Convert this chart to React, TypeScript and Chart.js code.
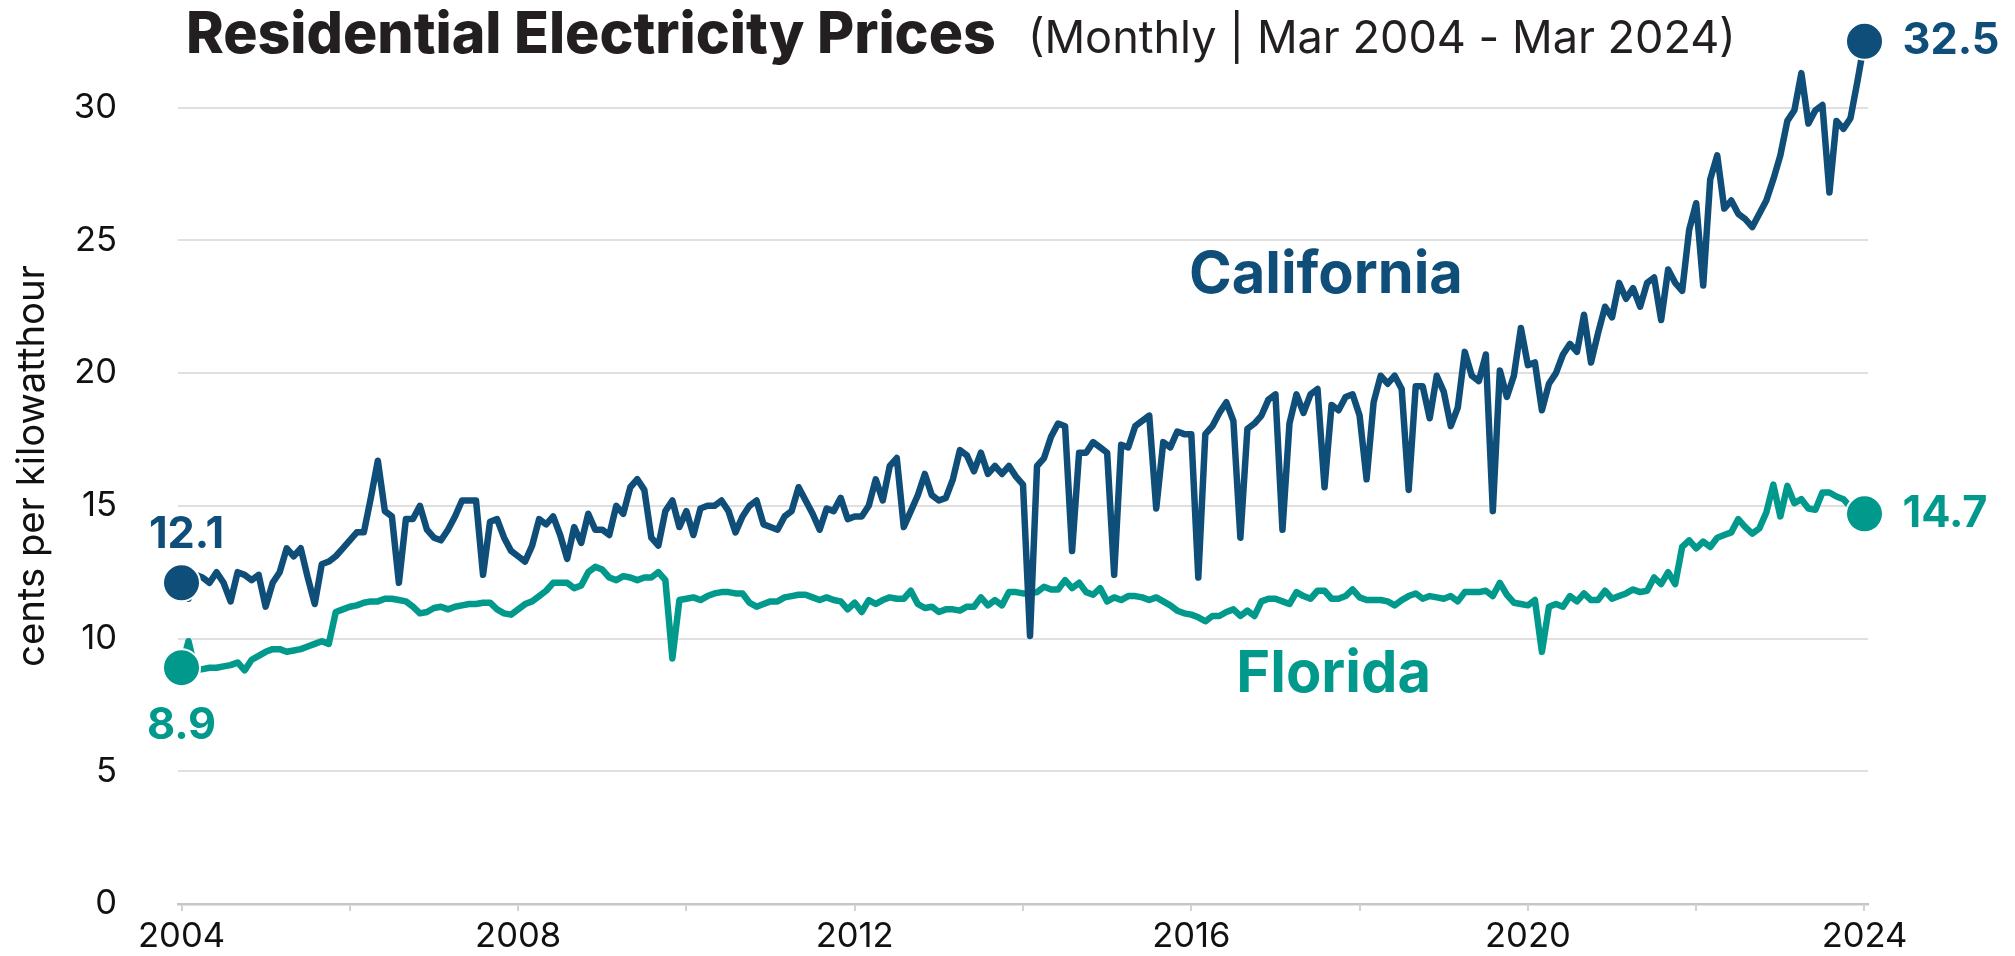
import React, { useEffect, useRef } from 'react';
import { Chart, registerables } from 'chart.js';

Chart.register(...registerables);

const FONT = 'Inter, "Liberation Sans", Arial, sans-serif';

// ---- categories (monthly, Mar 2004 .. Mar 2024) ----
const MONTH_NAMES = ['Jan', 'Feb', 'Mar', 'Apr', 'May', 'Jun', 'Jul', 'Aug', 'Sep', 'Oct', 'Nov', 'Dec'];
const START_MONTH = 2;
const START_YEAR = 2004;
const monthLabels: string[] = Array.from({ length: 241 }, (_, i) =>
  `${MONTH_NAMES[(START_MONTH + i) % 12]} ${START_YEAR + Math.floor((START_MONTH + i) / 12)}`
);

// ---- axis ticks ----
const xTickIndices = [0, 24, 48, 72, 96, 120, 144, 168, 192, 216, 240];
const xTickLabels = ['2004', '', '2008', '', '2012', '', '2016', '', '2020', '', '2024'];
const yTickValues = [0, 5, 10, 15, 20, 25, 30];

// ---- texts ----
const titleText = 'Residential Electricity Prices';
const subtitleText = '(Monthly | Mar 2004 - Mar 2024)';
const yAxisTitle = 'cents per kilowatthour';
const seriesNames = ['California', 'Florida'];

// ---- series values (cents per kWh) ----
const californiaPrices = [
  12.1, 11.5, 12.4, 12.3, 12.1, 12.5, 12.1, 11.4, 12.5, 12.4,
  12.2, 12.4, 11.2, 12.1, 12.5, 13.4, 13.1, 13.4, 12.3, 11.3,
  12.8, 12.9, 13.1, 13.4, 13.7, 14.0, 14.0, 15.3, 16.7, 14.8,
  14.6, 12.1, 14.5, 14.5, 15.0, 14.1, 13.8, 13.7, 14.1, 14.6,
  15.2, 15.2, 15.2, 12.4, 14.4, 14.5, 13.8, 13.3, 13.1, 12.9,
  13.5, 14.5, 14.3, 14.6, 13.9, 13.0, 14.2, 13.6, 14.7, 14.1,
  14.1, 13.9, 15.0, 14.7, 15.7, 16.0, 15.6, 13.8, 13.5, 14.8,
  15.2, 14.2, 14.8, 13.9, 14.9, 15.0, 15.0, 15.2, 14.8, 14.0,
  14.6, 15.0, 15.2, 14.3, 14.2, 14.1, 14.6, 14.8, 15.7, 15.2,
  14.7, 14.1, 14.9, 14.8, 15.3, 14.5, 14.6, 14.6, 15.0, 16.0,
  15.2, 16.5, 16.8, 14.2, 14.8, 15.4, 16.2, 15.4, 15.2, 15.3,
  16.0, 17.1, 16.9, 16.3, 17.0, 16.2, 16.5, 16.2, 16.5, 16.1,
  15.8, 10.1, 16.5, 16.8, 17.6, 18.1, 18.0, 13.3, 17.0, 17.0,
  17.4, 17.2, 17.0, 12.4, 17.3, 17.2, 18.0, 18.2, 18.4, 14.9,
  17.4, 17.2, 17.8, 17.7, 17.7, 12.3, 17.7, 18.0, 18.5, 18.9,
  18.2, 13.8, 17.9, 18.1, 18.4, 19.0, 19.2, 14.1, 18.1, 19.2,
  18.5, 19.2, 19.4, 15.7, 18.8, 18.6, 19.1, 19.2, 18.4, 16.0,
  18.9, 19.9, 19.6, 19.9, 19.4, 15.6, 19.5, 19.5, 18.3, 19.9,
  19.3, 18.0, 18.7, 20.8, 19.9, 19.7, 20.7, 14.8, 20.1, 19.1,
  19.9, 21.7, 20.3, 20.4, 18.6, 19.6, 20.0, 20.7, 21.1, 20.8,
  22.2, 20.4, 21.5, 22.5, 22.1, 23.4, 22.8, 23.2, 22.5, 23.4,
  23.6, 22.0, 23.9, 23.4, 23.1, 25.4, 26.4, 23.3, 27.3, 28.2,
  26.2, 26.5, 26.0, 25.8, 25.5, 26.0, 26.5, 27.3, 28.2, 29.5,
  29.9, 31.3, 29.4, 29.9, 30.1, 26.8, 29.5, 29.2, 29.6, 31.0,
  32.5,
];

const floridaPrices = [
  8.9, 9.9, 8.8, 8.85, 8.9, 8.9, 8.95, 9.0, 9.1, 8.8,
  9.2, 9.35, 9.5, 9.6, 9.6, 9.5, 9.55, 9.6, 9.7, 9.8,
  9.9, 9.8, 11.0, 11.1, 11.2, 11.25, 11.35, 11.4, 11.4, 11.5,
  11.5, 11.45, 11.4, 11.2, 10.95, 11.0, 11.15, 11.2, 11.1, 11.2,
  11.25, 11.3, 11.3, 11.35, 11.35, 11.1, 10.95, 10.9, 11.1, 11.3,
  11.4, 11.6, 11.8, 12.1, 12.1, 12.1, 11.9, 12.0, 12.5, 12.7,
  12.6, 12.3, 12.2, 12.35, 12.3, 12.2, 12.3, 12.3, 12.5, 12.2,
  9.25, 11.45, 11.5, 11.55, 11.45, 11.6, 11.7, 11.75, 11.75, 11.7,
  11.7, 11.35, 11.2, 11.3, 11.4, 11.4, 11.55, 11.6, 11.65, 11.65,
  11.55, 11.45, 11.55, 11.45, 11.4, 11.1, 11.35, 11.0, 11.45, 11.3,
  11.45, 11.55, 11.5, 11.5, 11.8, 11.3, 11.15, 11.2, 11.0, 11.1,
  11.1, 11.05, 11.2, 11.2, 11.55, 11.25, 11.45, 11.25, 11.75, 11.75,
  11.7, 11.7, 11.75, 11.95, 11.85, 11.85, 12.2, 11.9, 12.1, 11.75,
  11.65, 11.9, 11.4, 11.55, 11.45, 11.6, 11.6, 11.55, 11.45, 11.55,
  11.4, 11.25, 11.05, 10.95, 10.9, 10.8, 10.65, 10.85, 10.85, 11.0,
  11.1, 10.85, 11.05, 10.85, 11.4, 11.5, 11.5, 11.4, 11.3, 11.75,
  11.6, 11.5, 11.8, 11.8, 11.5, 11.5, 11.6, 11.85, 11.55, 11.45,
  11.45, 11.45, 11.4, 11.25, 11.45, 11.6, 11.7, 11.5, 11.6, 11.55,
  11.5, 11.6, 11.4, 11.75, 11.75, 11.75, 11.8, 11.6, 12.1, 11.65,
  11.35, 11.3, 11.25, 11.45, 9.5, 11.2, 11.3, 11.2, 11.6, 11.4,
  11.7, 11.45, 11.45, 11.8, 11.5, 11.6, 11.7, 11.85, 11.75, 11.8,
  12.3, 12.05, 12.5, 12.05, 13.45, 13.7, 13.4, 13.65, 13.45, 13.8,
  13.9, 14.0, 14.5, 14.2, 13.95, 14.15, 14.75, 15.8, 14.6, 15.75,
  15.1, 15.25, 14.9, 14.85, 15.5, 15.5, 15.35, 15.25, 14.95, 14.8,
  14.7,
];

const COLORS = ['#0f4e78', '#00998c'];

// font size that makes `text` as wide as the reference measured it
function fitSize(text: string, weight: string, width: number): number {
  const c = document.createElement('canvas').getContext('2d')!;
  c.font = `${weight} 100px ${FONT}`;
  return (100 * width) / c.measureText(text).width;
}

export default function App() {
  const canvasRef = useRef<HTMLCanvasElement | null>(null);

  useEffect(() => {
    const canvas = canvasRef.current;
    if (!canvas) return;
    const last = monthLabels.length - 1;

    const titleSize = fitSize(titleText, '800', 810);
    const subSize = fitSize(subtitleText, 'normal', 708);
    const nameSize = fitSize(seriesNames[0], 'bold', 274);
    const valueSize = fitSize('32.5', 'bold', 97);
    const xTickSize = fitSize('2004', 'normal', 87);
    const yTitleSize = fitSize(yAxisTitle, 'normal', 402);

    const annotatePlugin = {
      id: 'annotate',
      afterDraw(chart: any) {
        const { ctx } = chart;
        const xs = chart.scales.x;
        const ys = chart.scales.y;
        ctx.save();
        ctx.textBaseline = 'alphabetic';
        // Title + subtitle
        ctx.textAlign = 'left';
        ctx.fillStyle = '#231f20';
        ctx.font = `800 ${titleSize}px ${FONT}`;
        ctx.fillText(titleText, 186, 53);
        ctx.font = `normal ${subSize}px ${FONT}`;
        ctx.fillText(subtitleText, 1028, 53);

        // Series name labels
        ctx.textAlign = 'center';
        ctx.font = `bold ${nameSize}px ${FONT}`;
        ctx.fillStyle = COLORS[0];
        ctx.fillText(seriesNames[0], xs.getPixelForValue(163.2), ys.getPixelForValue(23.0));
        ctx.fillStyle = COLORS[1];
        ctx.fillText(seriesNames[1], xs.getPixelForValue(164.3), ys.getPixelForValue(8.0));

        // Start / end value labels
        ctx.font = `bold ${valueSize}px ${FONT}`;
        const x0 = xs.getPixelForValue(0);
        const xN = xs.getPixelForValue(last);
        ctx.textAlign = 'center';
        ctx.fillStyle = COLORS[0];
        ctx.fillText(californiaPrices[0].toFixed(1), x0 + 5, ys.getPixelForValue(californiaPrices[0]) - 35);
        ctx.fillStyle = COLORS[1];
        ctx.fillText(floridaPrices[0].toFixed(1), x0, ys.getPixelForValue(floridaPrices[0]) + 71);
        ctx.textAlign = 'left';
        ctx.fillStyle = COLORS[0];
        ctx.fillText(californiaPrices[last].toFixed(1), xN + 38, ys.getPixelForValue(californiaPrices[last]) + 13);
        ctx.fillStyle = COLORS[1];
        ctx.fillText(floridaPrices[last].toFixed(1), xN + 38, ys.getPixelForValue(floridaPrices[last]) + 13);
        ctx.restore();
      },
    };

    const endPointRadius = (ctx: any) => (ctx.dataIndex === 0 || ctx.dataIndex === last ? 18.5 : 0);
    const makeDataset = (label: string, values: number[], color: string) =>
      ({
        label,
        data: values.map((v, i) => ({ x: i, y: v })),
        borderColor: color,
        backgroundColor: color,
        borderWidth: 6.5,
        borderJoinStyle: 'round',
        borderCapStyle: 'round',
        tension: 0,
        pointRadius: endPointRadius,
        pointHoverRadius: endPointRadius,
        pointBackgroundColor: color,
        pointBorderColor: '#ffffff',
        pointBorderWidth: 2,
        clip: false,
      } as any);

    const chart = new Chart(canvas, {
      type: 'line',
      data: {
        datasets: [
          makeDataset(seriesNames[0], californiaPrices, COLORS[0]),
          makeDataset(seriesNames[1], floridaPrices, COLORS[1]),
        ],
      },
      options: {
        animation: false,
        responsive: true,
        maintainAspectRatio: false,
        events: [],
        layout: { padding: { top: 28, right: 147, left: 0, bottom: 0 } },
        plugins: {
          legend: { display: false },
          tooltip: { enabled: false },
          title: { display: false },
        },
        scales: {
          x: {
            type: 'linear',
            min: -0.5,
            max: last + 0.5,
            afterBuildTicks: (scale: any) => {
              scale.ticks = xTickIndices.map((v) => ({ value: v }));
            },
            afterFit: (scale: any) => {
              scale.height = 52;
              scale.paddingLeft = 0;
              scale.paddingRight = 0;
            },
            ticks: {
              autoSkip: false,
              maxRotation: 0,
              padding: 5,
              color: '#111111',
              font: { family: FONT, size: xTickSize },
              callback: (value: any) => {
                const k = xTickIndices.indexOf(Number(value));
                return k >= 0 ? xTickLabels[k] : '';
              },
            },
            grid: {
              drawOnChartArea: false,
              drawTicks: true,
              tickLength: 7,
              color: '#d2d2d2',
              lineWidth: 2,
            },
            border: { display: true, color: '#c6c6c6', width: 2.5 },
          },
          y: {
            type: 'linear',
            min: 0,
            max: 33,
            afterBuildTicks: (scale: any) => {
              scale.ticks = yTickValues.map((v) => ({ value: v }));
            },
            afterFit: (scale: any) => {
              scale.width = 178;
              scale.paddingTop = 0;
              scale.paddingBottom = 0;
            },
            ticks: {
              padding: 61,
              color: '#111111',
              font: { family: FONT, size: xTickSize },
              callback: (value: any) => String(value),
            },
            grid: {
              drawTicks: false,
              color: (c: any) => (c.tick && c.tick.value === 0 ? '#c6c6c6' : '#e0e0e0'),
              lineWidth: 2,
            },
            border: { display: false },
            title: {
              display: true,
              text: yAxisTitle,
              color: '#111111',
              font: { family: FONT, size: yTitleSize },
              padding: { top: Math.max(0, 32 - 0.6 * yTitleSize), bottom: 0 },
            },
          },
        },
      },
      plugins: [annotatePlugin],
    });

    return () => chart.destroy();
  }, []);

  return (
    <div style={{ position: 'fixed', left: 0, top: 0, width: 2015, height: 956, background: '#ffffff' }}>
      <canvas ref={canvasRef} />
    </div>
  );
}
